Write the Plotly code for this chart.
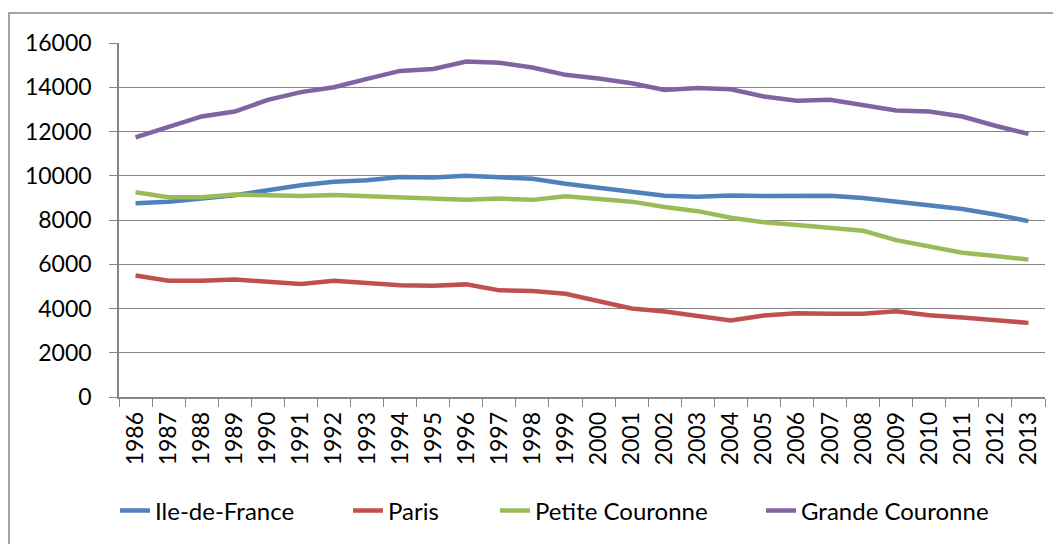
import plotly.graph_objects as go

years = [str(y) for y in range(1986, 2014)]

ile_de_france = [8760, 8820, 8970, 9120, 9340, 9570, 9730, 9800, 9940, 9920, 10000, 9940,
                 9860, 9640, 9450, 9270, 9100, 9050, 9110, 9080, 9080, 9100, 8990, 8840,
                 8690, 8500, 8250, 7950]
paris = [5490, 5250, 5250, 5310, 5210, 5110, 5250, 5140, 5050, 5030, 5090, 4820,
         4790, 4670, 4330, 4000, 3860, 3670, 3460, 3680, 3790, 3760, 3760, 3880,
         3700, 3590, 3490, 3350]
petite_couronne = [9250, 9030, 9030, 9150, 9120, 9090, 9130, 9070, 9010, 8940, 8920, 8970,
                   8910, 9070, 8950, 8830, 8590, 8400, 8100, 7900, 7770, 7630, 7510, 7090,
                   6790, 6520, 6370, 6210]
grande_couronne = [11730, 12230, 12680, 12900, 13430, 13780, 14000, 14380, 14740, 14830, 15160, 15110,
                   14890, 14560, 14400, 14180, 13880, 13970, 13910, 13580, 13390, 13430, 13190, 12950,
                   12900, 12680, 12260, 11890]

series = [
    ("Ile-de-France", ile_de_france, "#4F81BD"),
    ("Paris", paris, "#C0504D"),
    ("Petite Couronne", petite_couronne, "#9BBB59"),
    ("Grande Couronne", grande_couronne, "#8064A2"),
]

GRID = "#868686"
# the page body has an 8px margin, so the figure is laid out in page coords minus 8
W, H = 1053, 536
L, R, T, B = 111, 16, 35, 146
PW, PH = W - L - R, H - T - B

# left edge (px) of each legend entry, one legend per series to mimic Excel spacing
legend_left = [107, 340, 487, 753]
legend_mid_y = 503


def px_x(x):
    return (x - L) / PW


def px_y(y):
    return (H - B - y) / PH


fig = go.Figure()
legends = {}
for i, (name, values, color) in enumerate(series):
    key = "legend" if i == 0 else f"legend{i + 1}"
    fig.add_trace(go.Scatter(x=years, y=values, name=name, mode="lines",
                             line=dict(color=color, width=4.5), legend=key))
    legends[key] = dict(x=px_x(legend_left[i]), xanchor="left",
                        y=px_y(legend_mid_y), yanchor="middle",
                        font=dict(size=24), bgcolor="rgba(0,0,0,0)")

fig.update_layout(
    width=W, height=H,
    margin=dict(l=L, r=R, t=T, b=B),
    paper_bgcolor="white", plot_bgcolor="white",
    font=dict(family="Lato", size=23, color="black"),
    showlegend=True,
    # outer chart border, left and top edges visible only
    shapes=[dict(type="rect", xref="paper", yref="paper",
                 x0=px_x(1), x1=px_x(W + 10), y0=px_y(H + 10), y1=px_y(5),
                 line=dict(color=GRID, width=1.5), layer="below")],
    **legends,
)

fig.update_xaxes(type="category", range=[-0.5, len(years) - 0.5], automargin=False,
                 tickangle=-90, tickson="boundaries",
                 ticks="outside", ticklen=8, tickcolor=GRID,
                 showline=True, linecolor=GRID, linewidth=1.5,
                 showgrid=False, ticklabelstandoff=4)
fig.update_yaxes(range=[0, 16000], dtick=2000, tickformat="d", automargin=False,
                 ticks="outside", ticklen=8, tickcolor=GRID,
                 showline=True, linecolor=GRID, linewidth=1.5,
                 showgrid=True, gridcolor=GRID, gridwidth=1.2,
                 zeroline=False, ticklabelstandoff=13)

fig.write_html("out.html")
